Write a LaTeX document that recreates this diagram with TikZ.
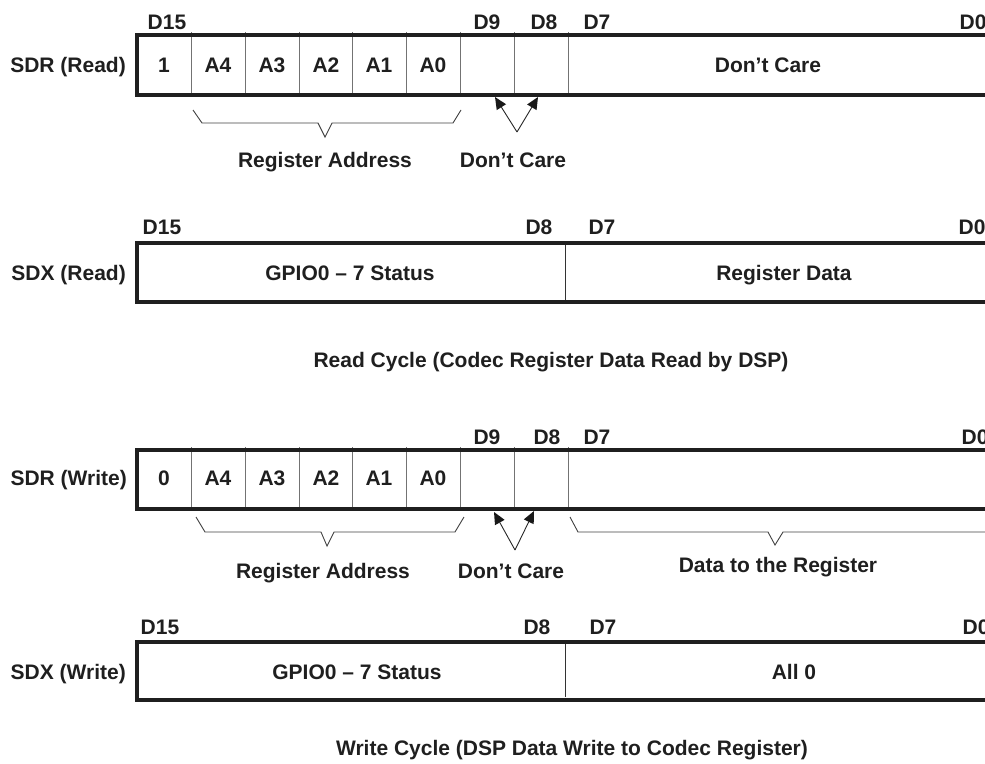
\documentclass[tikz,border=0pt]{standalone}
\usepackage{fontspec}
\setmainfont{Liberation Sans}
\usetikzlibrary{calc}
\begin{document}
\begin{tikzpicture}[x=1pt,y=-1pt,
  txt/.style={font=\fontsize{21}{24}\selectfont\bfseries, text=black!88, inner sep=0pt, anchor=base},
  lbl/.style={txt, anchor=base east},
  frame/.style={line width=3.4pt, draw=black!88},
  div/.style={line width=1pt, draw=black!55},
  divk/.style={line width=1pt, draw=black!80},
  brk/.style={line width=0.9pt, draw=black!75},
  arrline/.style={line width=0.9pt, draw=black!85},
  arrhead/.style={fill=black!90, draw=none}]
\newcommand{\myarrow}[2]{%
  \coordinate (ab) at ($(#2)!12pt!(#1)$);
  \draw[arrline] (#1) -- (ab);
  \fill[arrhead] (#2) -- ($(ab)!5.5pt!90:(#2)$) -- ($(ab)!5.5pt!-90:(#2)$) -- cycle;}
\useasboundingbox (0,0) rectangle (985,763);
\clip (0,0) rectangle (985,763);
% ---------------- Row 1: SDR (Read)
\foreach \x in {191,245,299,352,406,460,514,568} \draw[div] (\x,32) -- (\x,95);
\draw[frame] (1000,35) -- (137,35) -- (137,95) -- (1000,95);
\node[lbl] (r1) at (126,72.5) {SDR (Read)};
\node[txt] (r1d15) at (167,29.5) {D15};
\node[txt] (r1d9) at (487,29.5) {D9};
\node[txt] (r1d8) at (544,29.5) {D8};
\node[txt] (r1d7) at (597,29.5) {D7};
\node[txt] (r1d0) at (973,29.5) {D0};
\node[txt] (r1c1) at (164,72.5) {1};
\node[txt] (r1a4) at (218,72.5) {A4};
\node[txt] (r1a3) at (272,72.5) {A3};
\node[txt] (r1a2) at (326,72.5) {A2};
\node[txt] (r1a1) at (379,72.5) {A1};
\node[txt] (r1a0) at (433,72.5) {A0};
\node[txt] (r1dc) at (768,72.5) {Don’t Care};
\draw[brk] (193,110) -- (202,123) -- (318,123) -- (325,137) -- (332,123) -- (453,123) -- (461,110);
\coordinate (r1v) at (517,132);
\coordinate (r1t9) at (495,97);
\coordinate (r1t8) at (538,97);
\myarrow{r1v}{r1t9}
\myarrow{r1v}{r1t8}
\node[txt] (r1ra) at (325,167.5) {Register Address};
\node[txt] (r1dcl) at (513,167.5) {Don’t Care};
% ---------------- Row 2: SDX (Read)
\draw[divk] (565,243) -- (565,302);
\draw[frame] (1000,243) -- (137,243) -- (137,302) -- (1000,302);
\node[lbl] (r2) at (126,280.5) {SDX (Read)};
\node[txt] (r2d15) at (162,234.5) {D15};
\node[txt] (r2d8) at (539,234.5) {D8};
\node[txt] (r2d7) at (602,234.5) {D7};
\node[txt] (r2d0) at (972,234.5) {D0};
\node[txt] (r2g) at (350,280.5) {GPIO0 – 7 Status};
\node[txt] (r2rd) at (784,280.5) {Register Data};
\node[txt] (cap1) at (551,367.5) {Read Cycle (Codec Register Data Read by DSP)};
% ---------------- Row 3: SDR (Write)
\foreach \x in {191,245,299,352,406,460,514,568} \draw[div] (\x,447) -- (\x,509);
\draw[frame] (1000,450) -- (137,450) -- (137,509) -- (1000,509);
\node[lbl] (r3) at (127,485.5) {SDR (Write)};
\node[txt] (r3d9) at (487,444.5) {D9};
\node[txt] (r3d8) at (547,444.5) {D8};
\node[txt] (r3d7) at (597,444.5) {D7};
\node[txt] (r3d0) at (975,444.5) {D0};
\node[txt] (r3c0) at (164,485.5) {0};
\node[txt] (r3a4) at (218,485.5) {A4};
\node[txt] (r3a3) at (272,485.5) {A3};
\node[txt] (r3a2) at (326,485.5) {A2};
\node[txt] (r3a1) at (379,485.5) {A1};
\node[txt] (r3a0) at (433,485.5) {A0};
\draw[brk] (196,517) -- (205,532) -- (321,532) -- (327,546) -- (334,532) -- (455,532) -- (464,517);
\draw[brk] (570,517) -- (578,532) -- (768,532) -- (775,545) -- (783,532) -- (1000,532);
\coordinate (r3v) at (515,550);
\coordinate (r3t9) at (494,512);
\coordinate (r3t8) at (534,511);
\myarrow{r3v}{r3t9}
\myarrow{r3v}{r3t8}
\node[txt] (r3ra) at (323,578.5) {Register Address};
\node[txt] (r3dcl) at (511,578.5) {Don’t Care};
\node[txt] (r3dr) at (778,572.5) {Data to the Register};
% ---------------- Row 4: SDX (Write)
\draw[divk] (565,642) -- (565,697);
\draw[frame] (1000,642) -- (137,642) -- (137,700) -- (1000,700);
\node[lbl] (r4) at (126,679.5) {SDX (Write)};
\node[txt] (r4d15) at (160,634.5) {D15};
\node[txt] (r4d8) at (537,634.5) {D8};
\node[txt] (r4d7) at (603,634.5) {D7};
\node[txt] (r4d0) at (976,634.5) {D0};
\node[txt] (r4g) at (357,679.5) {GPIO0 – 7 Status};
\node[txt] (r4a) at (794,679.5) {All 0};
\node[txt] (cap2) at (572,755.5) {Write Cycle (DSP Data Write to Codec Register)};
\end{tikzpicture}
\end{document}
